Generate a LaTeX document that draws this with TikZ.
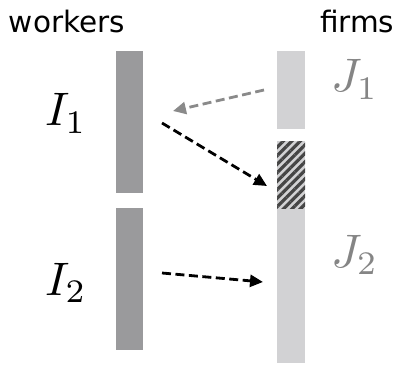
\documentclass[tikz,border=0pt]{standalone}
\usepackage{fontspec}
\setsansfont{DejaVu Sans}
\usepackage{xcolor}
\definecolor{workerGray}{HTML}{9A9A9C}
\definecolor{firmGray}{HTML}{D2D2D4}
\definecolor{arrowGray}{HTML}{8A8A8A}
\definecolor{labelGray}{HTML}{858585}
\definecolor{stripeGray}{HTML}{454545}
\usepackage{tikz}
\usetikzlibrary{arrows.meta,patterns.meta}

\begin{document}
\begin{tikzpicture}[x=1pt, y=1pt,
    every node/.style={inner sep=0pt, outer sep=0pt},
    head/.style={font=\sffamily\fontsize{29.5}{32}\selectfont, anchor=base west},
    set/.style={scale=4.7, anchor=base west},
    wbar/.style={fill=workerGray, minimum width=27pt},
    fbar/.style={fill=firmGray, minimum width=28pt},
    hatch/.style={fill=firmGray, minimum width=28pt,
                  postaction={pattern={Lines[angle=45, distance=6pt, line width=3.2pt]},
                              pattern color=stripeGray}},
    arr/.style={-{Triangle[length=13pt, width=12pt]}, line width=2.8pt,
                dash pattern=on 9pt off 4.5pt}]
  \useasboundingbox (0,0) rectangle (396,365);
  % headers
  \node[head] (wk) at (9, 332) {workers};
  \node[head] (fm) at (320, 332) {firms};
  % workers
  \node[wbar, minimum height=142pt] (i1) at (129.5, 243) {};
  \node[wbar, minimum height=142pt] (i2) at (129.5, 86) {};
  \node[set] (li1) at (45, 239) {$I_1$};
  \node[set] (li2) at (45, 70) {$I_2$};
  % firms
  \node[fbar, minimum height=78pt] (j1) at (291, 275) {};
  \node[fbar, minimum height=155pt] (j2) at (291, 79.5) {};
  \node[hatch, minimum height=67pt] (h) at (291, 190.5) {};
  \node[set, text=labelGray] (lj1) at (331, 273) {$J_1$};
  \node[set, text=labelGray] (lj2) at (331, 98) {$J_2$};
  % flows
  \coordinate (a1) at (264, 275);
  \coordinate (b1) at (173, 254);
  \coordinate (a2) at (162, 242);
  \coordinate (b2) at (267, 179);
  \coordinate (a3) at (162, 92);
  \coordinate (b3) at (263, 83);
  \draw[arr, arrowGray] (a1) -- (b1);
  \draw[arr] (a2) -- (b2);
  \draw[arr] (a3) -- (b3);
\end{tikzpicture}
\end{document}
